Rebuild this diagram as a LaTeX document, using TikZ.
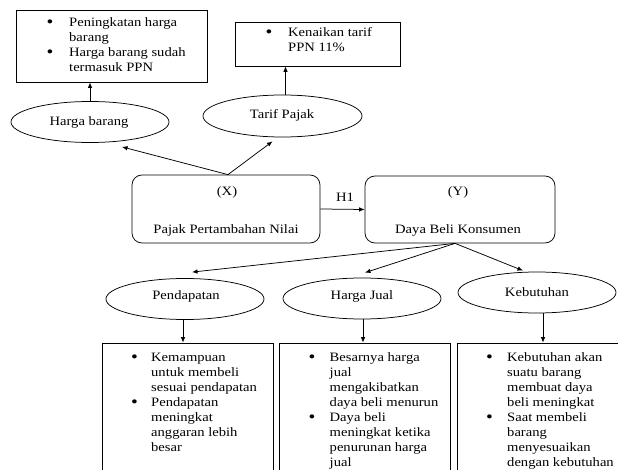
\documentclass[tikz,border=0pt]{standalone}
\usepackage{fontspec}
\setmainfont{Liberation Serif}[FakeStretch=1.14]
\usetikzlibrary{shapes.geometric,arrows.meta,calc}
\newcommand\mybul{\raisebox{-1pt}{\fontsize{17}{15}\selectfont\textbullet}}
\begin{document}
\begin{tikzpicture}[x=1pt,y=-1pt,
  every node/.style={font=\fontsize{12.8}{15}\selectfont},
  box/.style={draw, line width=0.75pt, inner sep=0pt, rectangle},
  ell/.style={draw, ellipse, line width=0.75pt, inner sep=0pt, minimum width=158pt, minimum height=41pt},
  rbox/.style={draw, rectangle, rounded corners=10pt, line width=0.75pt, inner sep=0pt},
  arr/.style={line width=0.75pt, -{Latex[length=5.5pt,width=4.5pt]}},
  txt/.style={anchor=base west, inner sep=0pt},
  lbl/.style={anchor=base, inner sep=0pt}]
\useasboundingbox (0,0) rectangle (618,470);
\clip (0,0) rectangle (618,470);

% top boxes
\node[box, minimum width=191pt, minimum height=72pt] (tl) at (111.5,46) {};
\node[txt] (tlt) at (46.5,27) {\begin{tabular}[t]{@{}p{22.5pt}@{}l@{}}\mybul & Peningkatan harga\\ & barang\\ \mybul & Harga barang sudah\\ & termasuk PPN\end{tabular}};

\node[box, minimum width=165pt, minimum height=44pt] (tm) at (317.5,44) {};
\node[txt] (tmt) at (265.5,37) {\begin{tabular}[t]{@{}p{22.5pt}@{}l@{}}\mybul & Kenaikan tarif\\ & PPN 11\%\end{tabular}};

% ellipses top
\node[ell, minimum width=158pt, minimum height=41pt] (hb) at (90,122) {};
\node[lbl] (hbt) at (89,126) {Harga barang};
\node[ell, minimum width=159pt, minimum height=42pt] (tp) at (282.5,116) {};
\node[lbl] (tpt) at (282,119) {Tarif Pajak};

% main boxes
\node[rbox, minimum width=188pt, minimum height=68pt] (X) at (226,209) {};
\node[lbl] (Xa) at (227,196) {(X)};
\node[lbl] (Xb) at (226,234) {Pajak Pertambahan Nilai};
\node[rbox, minimum width=190pt, minimum height=67pt] (Y) at (460,209.5) {};
\node[lbl] (Ya) at (458,196) {(Y)};
\node[lbl] (Yb) at (458,234) {Daya Beli Konsumen};
\node[lbl] (h1) at (345,202) {H1};

% lower ellipses
\node[ell] (pd) at (185,299) {};
\node[lbl] (pdt) at (186,299) {Pendapatan};
\node[ell] (hj) at (362,298.5) {};
\node[lbl] (hjt) at (362,299) {Harga Jual};
\node[ell] (kb) at (537,292.5) {};
\node[lbl] (kbt) at (537,296) {Kebutuhan};

% bottom boxes
\node[box, minimum width=171pt, minimum height=137pt] (b1) at (187.5,411.5) {};
\node[box, minimum width=171pt, minimum height=137pt] (b2) at (364.5,411.5) {};
\node[box, minimum width=183pt, minimum height=137pt] (b3) at (548.5,411.5) {};

\node[txt] (b1t) at (131,361) {\begin{tabular}[t]{@{}p{20pt}@{}l@{}}\mybul & Kemampuan\\ & untuk membeli\\ & sesuai pendapatan\\ \mybul & Pendapatan\\ & meningkat\\ & anggaran lebih\\ & besar\end{tabular}};
\node[txt] (b2t) at (308.5,361) {\begin{tabular}[t]{@{}p{21pt}@{}l@{}}\mybul & Besarnya harga\\ & jual\\ & mengakibatkan\\ & daya beli menurun\\ \mybul & Daya beli\\ & meningkat ketika\\ & penurunan harga\\ & jual\end{tabular}};
\node[txt] (b3t) at (486,361) {\begin{tabular}[t]{@{}p{21pt}@{}l@{}}\mybul & Kebutuhan akan\\ & suatu barang\\ & membuat daya\\ & beli meningkat\\ \mybul & Saat membeli\\ & barang\\ & menyesuaikan\\ & dengan kebutuhan\end{tabular}};

% connectors
\draw[arr] (hb.north) -- (hb.north |- tl.south);
\draw[arr] ([xshift=3pt]tp.north) -- ([xshift=3pt]tp.north |- tm.south);
\draw[arr] ([xshift=2pt]X.north) -- ($(hb.south)+(32,4)$);
\draw[arr] ([xshift=2pt]X.north) -- ($(tp.south)+(-10,4)$);
\draw[arr] (X.east) -- (Y.west);
\draw[arr] ([xshift=-5pt]Y.south) -- ($(pd.north)+(7,-6)$);
\draw[arr] ([xshift=-5pt]Y.south) -- ($(hj.north)+(3,-5)$);
\draw[arr] ([xshift=-5pt]Y.south) -- ($(kb.north)+(-14,-1)$);
\draw[arr] ([xshift=-2pt]pd.south) -- ([xshift=-2pt]pd.south |- b1.north);
\draw[arr] ([xshift=1pt]hj.south) -- ([xshift=1pt]hj.south |- b2.north);
\draw[arr] ([xshift=6pt]kb.south) -- ([xshift=6pt]kb.south |- b3.north);
\end{tikzpicture}
\end{document}
